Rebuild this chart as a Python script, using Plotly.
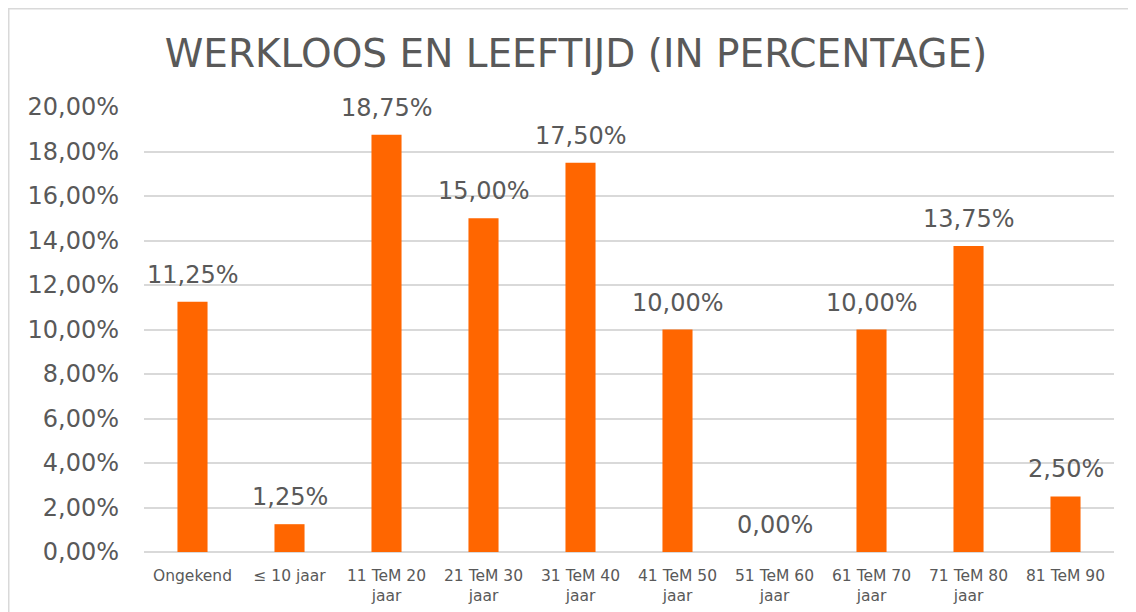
import plotly.graph_objects as go

categories = ["Ongekend", "≤ 10 jaar", "11 TeM 20<br>jaar", "21 TeM 30<br>jaar", "31 TeM 40<br>jaar",
              "41 TeM 50<br>jaar", "51 TeM 60<br>jaar", "61 TeM 70<br>jaar", "71 TeM 80<br>jaar", "81 TeM 90"]
values = [0.1125, 0.0125, 0.1875, 0.15, 0.175, 0.10, 0.0, 0.10, 0.1375, 0.025]
title_text = "WERKLOOS EN LEEFTIJD (IN PERCENTAGE)"

FONT = "DejaVu Sans, Verdana, sans-serif"
GRAY = "#595959"
ORANGE = "#FF6600"

fig = go.Figure()
fig.add_trace(go.Bar(x=categories, y=values, marker=dict(color=ORANGE, line=dict(width=0)),
                     hoverinfo="skip"))

for c, v in zip(categories, values):
    fig.add_annotation(x=c, y=v, text=f"{v*100:.2f}%".replace(".", ","), showarrow=False,
                       yanchor="middle", yshift=27, font=dict(family=FONT, size=24, color=GRAY))

W, H = 1136, 612
l, r, t, b = 136, 30, 99, 68
pw, ph = W - l - r, H - t - b
fig.add_shape(type="rect", xref="paper", yref="paper",
              x0=(0.75 - l) / pw, x1=1 + (r + 20) / pw,
              y0=-(b + 20) / ph, y1=1 + (t - 0.75) / ph,
              line=dict(color="#D9D9D9", width=1.5), fillcolor="rgba(0,0,0,0)", layer="below")

fig.update_layout(
    width=W, height=H,
    margin=dict(l=l, r=r, t=t, b=b, autoexpand=False),
    paper_bgcolor="white", plot_bgcolor="white",
    separators=",.",
    bargap=0.69,
    showlegend=False,
    title=dict(text=title_text, x=568 / W, xref="container", xanchor="center",
               y=1 - 45 / H, yref="container", yanchor="middle",
               font=dict(family=FONT, size=39, color=GRAY)),
    font=dict(family=FONT, color=GRAY),
)
fig.update_yaxes(range=[0, 0.2], dtick=0.02, tickformat=".2%", showgrid=True,
                 gridcolor="#D9D9D9", gridwidth=1.5, zeroline=True, zerolinecolor="#D9D9D9",
                 zerolinewidth=1.5, showline=False, ticks="", ticklabelstandoff=24, automargin=False,
                 tickfont=dict(family=FONT, size=24, color=GRAY), fixedrange=True)
fig.update_xaxes(showline=False, ticks="", tickfont=dict(family=FONT, size=15.5, color=GRAY),
                 ticklabelstandoff=12, tickangle=0, automargin=False, fixedrange=True)

fig.write_html("out.html")
